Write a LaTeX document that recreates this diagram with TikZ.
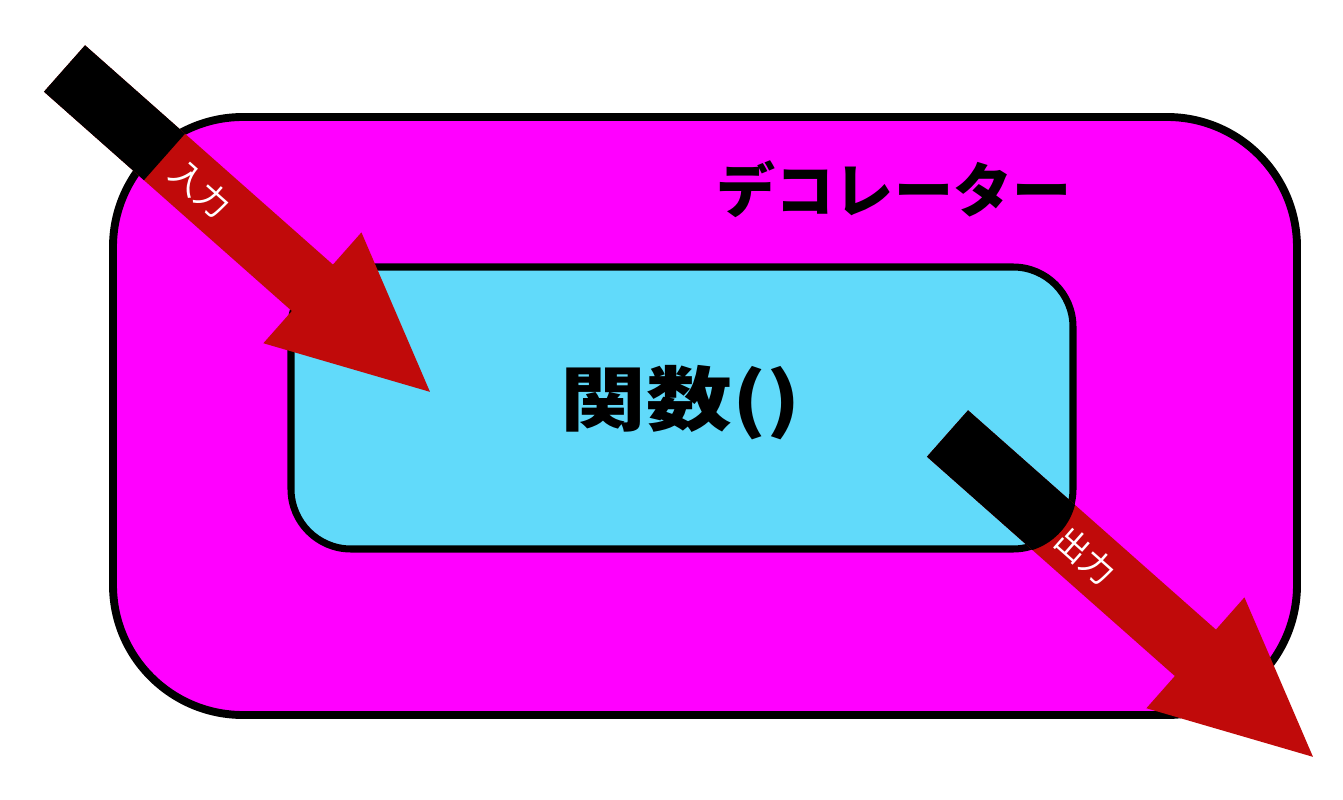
\documentclass[tikz,border=0pt]{standalone}
\usepackage{fontspec}
\newfontfamily\jpfont{Noto Sans CJK JP}
\definecolor{decomagenta}{RGB}{255,0,255}
\definecolor{funccyan}{RGB}{97,218,250}
\definecolor{arrowred}{RGB}{192,10,10}
\tikzset{
  arrowlabel/.style={text=white, font=\jpfont\fontsize{19}{21}\selectfont, inner sep=0pt},
  arrowshape/.style={insert path={(0,-31) -- (331,-31) -- (331,-74) -- (488,0) -- (331,74) -- (331,31) -- (0,31) -- cycle}}
}
\begin{document}
\begin{tikzpicture}[x=0.02cm, y=-0.02cm]
        % Sizes are in pixels of the 1343x800 picture
        \def\arrowangle{-41.5} % Direction of both arrows
        \def\tailblack{133.5} % Length of the black tail of the input arrow
        \useasboundingbox (0,0) rectangle (1343,800);

        % Draw the decorator box
        \draw[fill=decomagenta, line width=4.5pt, rounded corners=2.6cm] (113,117) rectangle (1297,715);
        \node[font=\jpfont\bfseries\fontsize{33.6}{40}\selectfont] (deco) at (894,189) {デコレーター};

        % Draw the function box
        \draw[fill=funccyan, line width=4pt, rounded corners=1.2cm] (291,267) rectangle (1073,549);
        \node[font=\jpfont\bfseries\fontsize{40}{48}\selectfont, xscale=1.22] (func) at (681,403) {関数()};

        % Start points of the arrows
        \coordinate (instart) at (64.5,68.5);
        \coordinate (outstart) at (947.5,433.5);

        % Input arrow
        \begin{scope}[shift={(instart)}, rotate=\arrowangle]
            \fill[arrowred, arrowshape];
            \fill[black] (0,-31) rectangle (\tailblack,31);
            \node[arrowlabel, rotate=\arrowangle] (inlabel) at (182,0) {入力};
        \end{scope}

        % Output arrow, black only inside the function box
        \begin{scope}[shift={(outstart)}, rotate=\arrowangle]
            \fill[arrowred, arrowshape];
        \end{scope}
        \begin{scope}
            \clip[rounded corners=1.28cm] (287,263) rectangle (1077,553);
            \begin{scope}[shift={(outstart)}, rotate=\arrowangle]
                \fill[black] (0,-31) rectangle (331,31);
            \end{scope}
        \end{scope}
        \begin{scope}[shift={(outstart)}, rotate=\arrowangle]
            \node[arrowlabel, rotate=\arrowangle] (outlabel) at (185,0) {出力};
        \end{scope}
    \end{tikzpicture}
\end{document}
